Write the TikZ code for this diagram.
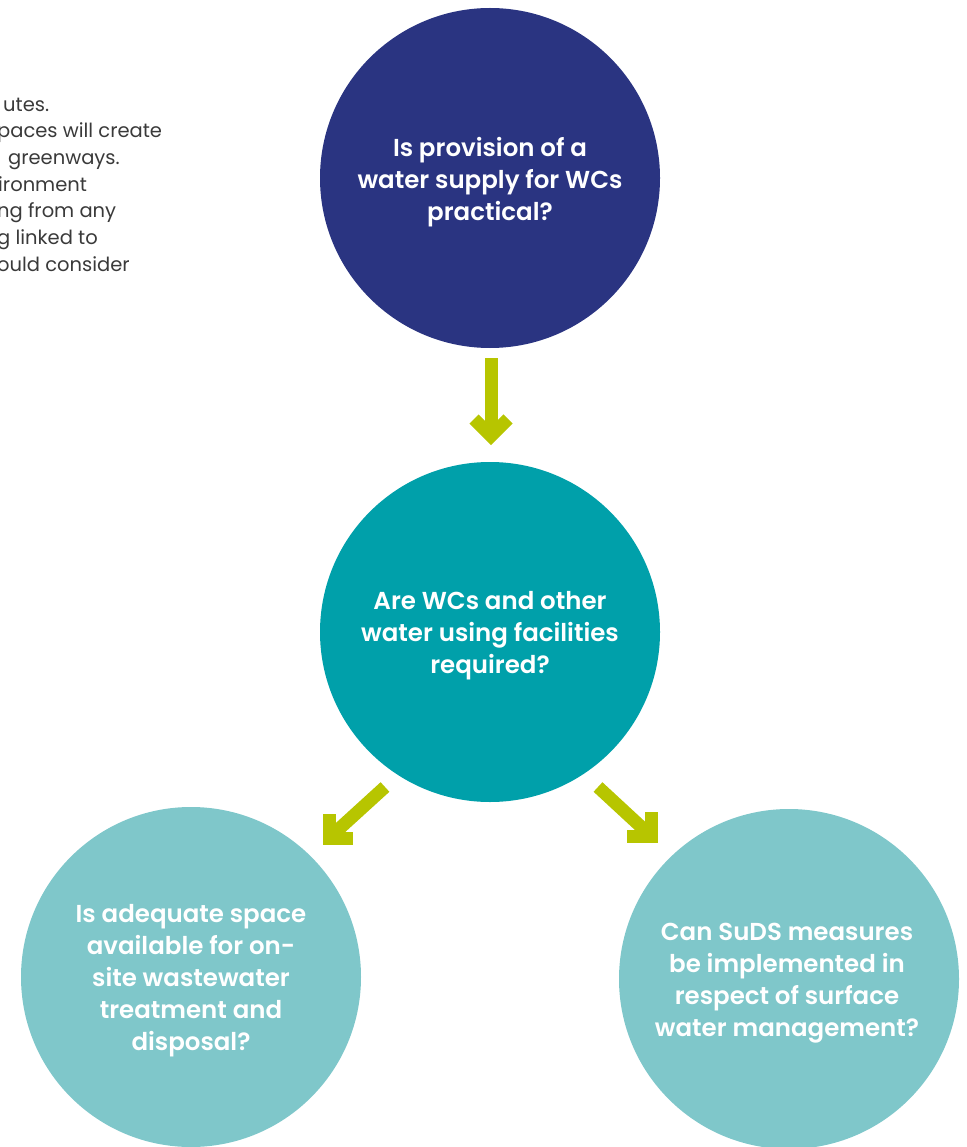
\documentclass[tikz,border=0pt]{standalone}
\usepackage{fontspec}
\setmainfont{Poppins}
\newfontfamily\qfont{Poppins}[UprightFont=* SemiBold]
\definecolor{navy}{HTML}{2A3481}
\definecolor{teal}{HTML}{00A0AA}
\definecolor{lteal}{HTML}{7FC7CA}
\definecolor{arrowgreen}{HTML}{B7C500}
\definecolor{bodytext}{HTML}{3A3A3A}
\tikzset{
  qcircle/.style={circle, minimum size=340pt, inner sep=0pt},
  qtext/.style={text=white, align=center, font=\qfont\fontsize{24.5}{32}\selectfont},
  flowarrow/.style={draw=arrowgreen, line width=13pt, miter limit=4},
  bodyline/.style={anchor=base west, inner sep=0pt, text=bodytext, font=\fontsize{19.5}{26}\selectfont}
}
\begin{document}
\begin{tikzpicture}[x=1pt,y=-1pt]
\useasboundingbox (0,0) rectangle (966,1147);
% left paragraph fragment
\node[bodyline] (p1) at (3,112) {utes.};
\node[bodyline] (p2) at (-3,138) {paces will create};
\node[bodyline] (p3) at (8,165) {greenways.};
\node[bodyline] (p4) at (-2,192) {ironment};
\node[bodyline] (p5) at (-3,218) {ng from any};
\node[bodyline] (p6) at (-3,245) {g linked to};
\node[bodyline] (p7) at (-3,272) {ould consider};
% circles
\node[qcircle, fill=navy] (c1) at (490,178) {};
\node[qcircle, fill=teal] (c2) at (490,632) {};
\node[qcircle, fill=lteal] (c3) at (191,977) {};
\node[qcircle, fill=lteal] (c4) at (789,979) {};
\node[qtext] (t1) at (490,182) {Is provision of a\\water supply for WCs\\practical?};
\node[qtext] (t2) at (490,636) {Are WCs and other\\water using facilities\\required?};
\node[qtext] (t3) at (191,981) {Is adequate space\\available for on-\\site wastewater\\treatment and\\disposal?};
\node[qtext] (t4) at (787,983) {Can SuDS measures\\be implemented in\\respect of surface\\water management?};
% arrows
\coordinate (a1s) at (491,358);
\coordinate (a1v) at (491,436);
\draw[flowarrow] (a1s) -- (a1v);
\draw[flowarrow] (474,419) -- (a1v) -- (508,419);
\coordinate (a2s) at (385,787);
\coordinate (a2v) at (329,838);
\draw[flowarrow] (a2s) -- (a2v);
\draw[flowarrow] (329,814) -- (a2v) -- (353,838);
\coordinate (a3s) at (598,787);
\coordinate (a3v) at (651,836);
\draw[flowarrow] (a3s) -- (a3v);
\draw[flowarrow] (651,812) -- (a3v) -- (627,836);
\end{tikzpicture}
\end{document}
